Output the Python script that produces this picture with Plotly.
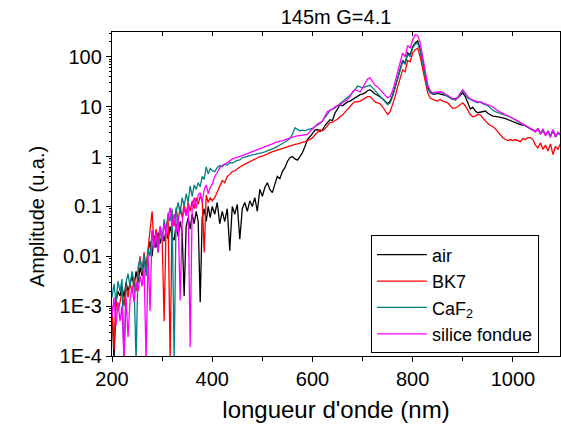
import plotly.graph_objects as go

# wavelength grid (nm): 4 nm steps in the noisy UV part, 5 nm above 400 nm
wavelength = list(range(200, 404, 4)) + list(range(405, 1100, 5))

air = [
    # 200 - 400 nm
    1.0e-3, 8e-5, 1.2e-3, 2.0e-3, 1.6e-3, 2.5e-3, 1.5e-3, 3.0e-3, 2.0e-3, 2.9e-3,
    4.0e-3, 2.5e-3, 5.0e-3, 3.0e-3, 6.0e-3, 4.0e-3, 9.0e-3, 5.0e-3, 1.2e-2, 2.0e-2,
    1.0e-2, 2.6e-2, 1.5e-2, 3.0e-2, 1.8e-2, 2.9e-2, 2.0e-2, 3.5e-2, 2.2e-2, 4.0e-2,
    2.5e-2, 2.1e-2, 4.5e-2, 2.5e-2, 5.0e-2, 3.0e-2, 1.6e-3, 4.0e-2, 6.0e-2, 3.5e-2,
    7.0e-2, 4.5e-2, 8.0e-2, 5.0e-2, 1.2e-3, 6.0e-2, 9.0e-2, 5.0e-2, 0.10, 0.06, 0.10,
    # 405 - 1095 nm
    0.07, 0.12, 0.045, 0.08, 0.05, 0.09, 0.013, 0.10, 0.07, 0.11,
    0.022, 0.09, 0.12, 0.08, 0.13, 0.10, 0.15, 0.08, 0.22, 0.16,
    0.24, 0.30, 0.22, 0.19, 0.28, 0.40, 0.36, 0.50, 0.60, 0.80,
    0.95, 1.0, 0.90, 0.85, 1.0, 1.2, 1.6, 2.2, 2.5, 3.0,
    3.4, 3.5, 3.2, 3.4, 4.2, 4.8, 5.5, 5.3, 7.5, 9.0,
    11, 10.5, 11.5, 12.5, 13, 14, 15, 16, 17.5, 18,
    19, 21, 22, 20, 18, 17, 16, 14.5, 13, 11.5,
    13, 17, 25, 38, 55, 85, 75, 120, 110, 160,
    190, 210, 140, 80, 40, 25, 20, 18, 18, 18.5,
    18, 17.5, 17, 16.5, 15, 14, 14.5, 15, 17, 19,
    16, 12, 9.0, 9.8, 8.2, 7.6, 7.8, 8.0, 8.2, 7.4,
    6.8, 6.5, 6.4, 6.3, 6.1, 6.0, 5.8, 5.5, 5.2, 5.0,
    4.8, 4.6, 4.4, 4.3, 4.2, 3.9, 3.6, 3.4, 3.2, 3.6,
    2.9, 3.3, 2.8, 3.1, 2.6, 3.4, 2.5, 3.0, 2.7,
]

bk7 = [
    1.0e-3, 1.3e-4, 1.5e-3, 8.0e-4, 1.2e-3, 2.0e-3, 1.0e-3, 2.5e-3, 1.5e-3, 3.0e-3,
    1.8e-3, 3.5e-3, 2.0e-3, 5.0e-3, 1.0e-2, 4.5e-3, 1.2e-2, 6.0e-3, 1.6e-2, 3.0e-2,
    8.0e-2, 1.5e-2, 3.5e-2, 1.8e-2, 4.0e-2, 2.5e-2, 5.0e-4, 4.0e-2, 6.0e-2, 8e-5,
    7.0e-2, 4.0e-2, 9.5e-2, 5.0e-2, 0.10, 0.06, 0.11, 0.07, 0.12, 0.08,
    0.13, 0.09, 0.15, 0.11, 0.16, 0.13, 0.012, 0.17, 0.12, 0.15, 0.13,
    0.15, 0.20, 0.27, 0.33, 0.30, 0.40, 0.44, 0.50, 0.52, 0.58,
    0.62, 0.66, 0.70, 0.74, 0.80, 0.84, 0.88, 0.94, 1.0, 1.02,
    1.06, 1.12, 1.2, 1.25, 1.28, 1.35, 1.4, 1.45, 1.52, 1.6,
    1.68, 1.72, 1.76, 1.8, 1.85, 1.95, 2.0, 2.1, 2.2, 2.4,
    2.7, 3.0, 3.5, 3.3, 3.6, 4.2, 4.8, 4.9, 5.2, 5.6,
    6.3, 6.8, 7.8, 9.0, 10.5, 11.5, 12.7, 12.5, 13, 14,
    15, 16, 16, 14, 12.5, 12, 11.5, 10, 8.5, 7.0,
    8, 11, 16, 25, 38, 55, 50, 85, 80, 120,
    140, 150, 100, 55, 30, 19, 15, 14, 13.5, 13,
    14, 13, 12.5, 12, 10.5, 9.3, 9.5, 10, 11, 12,
    10.5, 8.5, 7.0, 6.3, 6.5, 7.0, 6.8, 6.0, 5.2, 4.6,
    4.2, 4.0, 3.6, 3.1, 2.8, 2.4, 2.2, 2.1, 2.2, 2.1,
    2.2, 2.1, 2.0, 2.3, 2.2, 2.4, 2.4, 2.2, 1.7, 1.5,
    1.9, 1.4, 1.7, 1.3, 1.8, 1.1, 1.6, 1.4, 1.8,
]

caf2 = [
    1.5e-3, 2.8e-3, 1.2e-3, 3.2e-3, 2.0e-3, 3.5e-3, 8e-5, 3.0e-3, 4.5e-3, 2.5e-3,
    5.0e-3, 3.0e-3, 8e-5, 6.0e-3, 9.0e-3, 5.0e-3, 1.1e-2, 4.0e-3, 1.4e-2, 1.0e-2,
    3.2e-2, 1.5e-2, 2.5e-2, 1.2e-2, 3.5e-2, 2.0e-2, 5.5e-2, 3.0e-2, 7.5e-2, 5.0e-2,
    9.0e-2, 8e-5, 8.0e-2, 0.12, 0.07, 0.15, 0.10, 0.18, 0.12, 0.26,
    0.16, 0.27, 0.22, 0.30, 0.25, 0.40, 0.35, 0.62, 0.45, 0.58, 0.52,
    0.50, 0.60, 0.66, 0.63, 0.70, 0.68, 0.76, 0.74, 0.80, 0.84,
    0.86, 0.95, 0.98, 1.0, 1.05, 1.08, 1.1, 1.12, 1.15, 1.2,
    1.25, 1.3, 1.35, 1.42, 1.5, 1.6, 1.7, 1.8, 1.95, 2.1,
    2.3, 2.8, 3.8, 3.6, 3.3, 3.4, 3.3, 3.5, 3.6, 3.7,
    4.0, 4.3, 4.6, 5.2, 6.0, 7.0, 8.5, 9.0, 9.5, 10.5,
    11.5, 12.5, 14, 15.5, 17, 19, 22, 26, 25, 24,
    25, 26, 27, 24, 21, 18, 16, 14, 12.5, 11,
    12, 16, 24, 36, 52, 80, 72, 115, 100, 150,
    180, 190, 130, 75, 38, 23, 19, 18, 18.5, 19,
    19.5, 19, 17, 16, 15, 14, 13.5, 15, 18, 21,
    18, 15, 14, 13, 12.5, 12, 12.5, 11.5, 11, 10.5,
    9.5, 8.5, 8.0, 7.6, 7.3, 7.0, 6.8, 6.6, 6.2, 5.8,
    5.4, 5.0, 4.7, 4.4, 4.1, 3.8, 3.6, 3.5, 3.2, 3.6,
    3.0, 3.4, 2.8, 3.2, 2.6, 3.3, 2.5, 3.0, 2.7,
]

silice = [
    6.0e-4, 1.5e-3, 4.0e-4, 1.2e-3, 5.0e-4, 1.0e-3, 8e-5, 1.5e-3, 2.4e-4, 1.3e-3,
    2.5e-3, 1.2e-3, 3.0e-3, 2.0e-3, 4.0e-3, 2.5e-3, 6.0e-3, 8e-5, 1.0e-2, 8.0e-4,
    3.4e-2, 1.5e-2, 3.0e-2, 1.2e-2, 4.0e-2, 2.0e-2, 4.6e-2, 2.5e-2, 6.0e-2, 9.5e-2,
    4.0e-2, 7.0e-2, 3.0e-2, 6.5e-2, 1.3e-3, 5.0e-2, 9.0e-2, 6.5e-2, 0.11, 1.5e-4,
    0.10, 0.15, 0.09, 0.17, 0.19, 0.12, 0.22, 0.27, 0.18, 0.24, 0.28,
    0.40, 0.48, 0.60, 0.66, 0.72, 0.76, 0.82, 0.90, 0.93, 0.98,
    1.0, 1.05, 1.1, 1.15, 1.2, 1.25, 1.3, 1.35, 1.45, 1.5,
    1.55, 1.6, 1.7, 1.8, 1.9, 2.0, 2.05, 2.1, 2.2, 2.3,
    2.4, 2.5, 2.55, 2.6, 2.65, 2.7, 2.75, 2.8, 3.2, 3.6,
    4.0, 4.5, 4.8, 5.2, 6.5, 8.0, 8.5, 9.0, 10, 10.5,
    11, 12, 13, 14, 16, 20, 22, 21, 20, 24,
    30, 36, 38, 32, 27, 25, 22, 19, 17, 15,
    16, 21, 32, 50, 75, 120, 100, 170, 150, 220,
    280, 270, 190, 95, 48, 28, 21, 19, 19.5, 20,
    20, 19.5, 18, 16.5, 15.5, 14.5, 14, 15.5, 19, 22,
    19, 16, 14.5, 13.5, 13, 12.5, 12.7, 12, 11.5, 11,
    10.5, 10, 9.0, 8.3, 7.8, 7.4, 7.0, 6.6, 6.3, 6.0,
    5.6, 5.2, 4.8, 4.5, 4.2, 3.9, 3.6, 3.4, 3.1, 3.7,
    2.8, 3.6, 2.6, 3.3, 2.4, 3.5, 2.5, 3.1, 2.8,
]

series_names = ["air", "BK7", "CaF<sub>2</sub>", "silice fondue"]
series_values = [air, bk7, caf2, silice]
series_colors = ["#000000", "#ff0000", "#008080", "#ff00ff"]

y_tickvals = [1e-4, 1e-3, 1e-2, 1e-1, 1, 10, 100]
y_ticktext = ["1E-4", "1E-3", "0.01", "0.1", "1", "10", "100"]

FONT = "Liberation Sans, Arial, sans-serif"

fig = go.Figure()
for name, vals, color in zip(series_names, series_values, series_colors):
    fig.add_trace(go.Scatter(x=wavelength, y=vals, mode="lines", name=name,
                             line=dict(color=color, width=1.3)))
# empty trace to carry the inward ticks of the top axis
fig.add_trace(go.Scatter(x=[None], y=[None], xaxis="x2", showlegend=False, hoverinfo="skip"))

minor_y = [k * 10.0 ** e for e in range(-4, 3) for k in range(2, 10)]

fig.update_layout(
    width=561, height=425,
    margin=dict(l=112, r=1, t=32, b=69),
    paper_bgcolor="white", plot_bgcolor="white",
    font=dict(family=FONT, size=20, color="black"),
    title=dict(text="145m G=4.1", x=0.5, xref="paper", xanchor="center",
               y=1 - 17 / 425, yanchor="middle", font=dict(size=20)),
    showlegend=True,
    legend=dict(x=0.578, y=0.372, xanchor="left", yanchor="top",
                bgcolor="white", bordercolor="black", borderwidth=1,
                font=dict(size=18), itemwidth=50),
    xaxis=dict(range=[200, 1094], tickvals=[200, 400, 600, 800, 1000],
               ticks="outside", ticklen=5, tickwidth=1, tickcolor="black",
               minor=dict(tickvals=[300, 500, 700, 900], ticks="outside", ticklen=4,
                          tickcolor="black"),
               showline=True, linecolor="black", linewidth=1.3, mirror=True,
               showgrid=False, zeroline=False,
               title=dict(text="longueur d'onde (nm)", standoff=12)),
    xaxis2=dict(overlaying="x", side="top", range=[200, 1094],
                tickvals=[300, 400, 500, 600, 700, 800, 900, 1000],
                ticks="inside", ticklen=4, tickcolor="black",
                showticklabels=False, showline=False, showgrid=False, zeroline=False),
    yaxis=dict(type="log", range=[-4, 2.5], tickvals=y_tickvals, ticktext=y_ticktext,
               ticks="outside", ticklen=5, tickwidth=1, tickcolor="black",
               minor=dict(tickvals=minor_y, ticks="outside", ticklen=2, tickcolor="black"),
               showline=True, linecolor="black", linewidth=1.3, mirror=True,
               showgrid=False, zeroline=False),
    annotations=[dict(text="Amplitude (u.a.)", textangle=-90, xref="paper", yref="paper",
                      x=(37 - 112) / 448, y=(356 - 217) / 324, xanchor="center",
                      yanchor="middle", showarrow=False, font=dict(size=20))],
)

fig.write_html("out.html", config={"displayModeBar": False},
               post_script="document.body.style.margin='0';")
